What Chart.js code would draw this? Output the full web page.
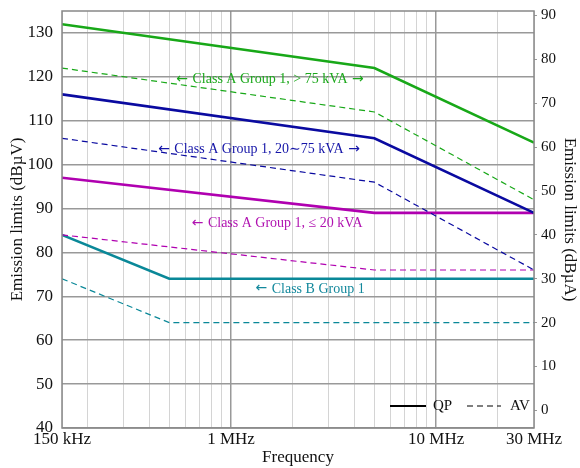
<!DOCTYPE html>
<html>
<head>
<meta charset="utf-8">
<script src="https://cdn.jsdelivr.net/npm/chart.js@4/dist/chart.umd.min.js"></script>
<style>
  html, body { margin: 0; padding: 0; background: #fff; }
  #wrap { width: 580px; height: 468px; }
</style>
</head>
<body>
<div id="wrap"><canvas id="limites"></canvas></div>
<script>
// frecuencias en MHz
var freqA = [0.15, 5, 30];
var freqB = [0.15, 0.5, 30];

// limites en dBuV
var grandeQP = [132, 122, 105];
var grandeAV = [122, 112, 92];
var medioQP = [116, 106, 89];
var medioAV = [106, 96, 76];
var chicoQP = [97, 89, 89];
var chicoAV = [84, 76, 76];
var claseBQP = [84, 74, 74];
var claseBAV = [74, 64, 64];

var ticksFreq = [0.15, 0.2, 0.3, 0.4, 0.5, 0.6, 0.7, 0.8, 0.9, 1, 2, 3, 4, 5, 6, 7, 8, 9, 10, 20, 30];
var etiquetasFreq = { 0.15: '150 kHz', 1: '1 MHz', 10: '10 MHz', 30: '30 MHz' };
var ticksUV = [40, 50, 60, 70, 80, 90, 100, 110, 120, 130];
var ticksUA = [0, 10, 20, 30, 40, 50, 60, 70, 80, 90];

// textos de cada clase: flecha izq, texto, flecha der
var textos = [
  { t: 'Class A Group 1, > 75 kVA', izq: true, der: true, f: 1.55, v: 119.5, c: '#1ca81c' },
  { t: 'Class A Group 1, 20\u223c75 kVA', izq: true, der: true, f: 1.37, v: 103.5, c: '#1515a8' },
  { t: 'Class A Group 1, \u2264 20 kVA', izq: true, der: false, f: 1.68, v: 86.7, c: '#b012b0' },
  { t: 'Class B Group 1', izq: true, der: false, f: 2.43, v: 71.7, c: '#13889c' }
];

var verde = '#18a818';
var azul = '#0a0aa0';
var magenta = '#b000b0';
var teal = '#0a8898';
var serif = "'Liberation Serif', 'DejaVu Serif', serif";

function puntos(xs, ys) {
  return xs.map(function (x, i) { return { x: x, y: ys[i] }; });
}

function serie(xs, ys, color, punteada) {
  return {
    data: puntos(xs, ys),
    borderColor: color,
    borderWidth: punteada ? 1.2 : 2.6,
    borderDash: punteada ? [6, 4] : [],
    pointRadius: 0,
    tension: 0,
    fill: false,
    yAxisID: 'y'
  };
}

var extras = {
  id: 'extras',
  afterDatasetsDraw: function (chart) {
    var ctx = chart.ctx;
    var x = chart.scales.x, y = chart.scales.y;
    var a = chart.chartArea;
    var fTexto = '14px ' + serif;
    var fFlecha = "14px 'DejaVu Sans', sans-serif";
    ctx.save();
    ctx.textAlign = 'left';
    ctx.textBaseline = 'middle';
    textos.forEach(function (e) {
      var partes = [];
      if (e.izq) partes.push({ s: '\u2190 ', f: fFlecha });
      partes.push({ s: e.t, f: fTexto });
      if (e.der) partes.push({ s: ' \u2192', f: fFlecha });
      var total = 0;
      partes.forEach(function (p) { ctx.font = p.f; p.w = ctx.measureText(p.s).width; total += p.w; });
      var px = x.getPixelForValue(e.f) - total / 2;
      var py = y.getPixelForValue(e.v);
      ctx.fillStyle = e.c;
      partes.forEach(function (p) { ctx.font = p.f; ctx.fillText(p.s, px, py); px += p.w; });
    });
    // leyenda
    var ly = a.bottom - 22;
    ctx.strokeStyle = '#000';
    ctx.lineWidth = 2.2;
    ctx.beginPath();
    ctx.moveTo(a.right - 144, ly);
    ctx.lineTo(a.right - 108, ly);
    ctx.stroke();
    ctx.lineWidth = 1.2;
    ctx.setLineDash([6, 4]);
    ctx.beginPath();
    ctx.moveTo(a.right - 67, ly);
    ctx.lineTo(a.right - 33, ly);
    ctx.stroke();
    ctx.setLineDash([]);
    ctx.fillStyle = '#111';
    ctx.font = '15px ' + serif;
    ctx.fillText('QP', a.right - 101, ly);
    ctx.fillText('AV', a.right - 24, ly);
    // marco
    ctx.strokeStyle = '#888';
    ctx.lineWidth = 1.5;
    ctx.strokeRect(a.left, a.top, a.right - a.left, a.bottom - a.top);
    ctx.restore();
  }
};

var lienzo = document.getElementById('limites').getContext('2d');

var grafica = new Chart(lienzo, {
  type: 'line',
  data: {
    datasets: [
      serie(freqA, grandeQP, verde, false),
      serie(freqA, grandeAV, verde, true),
      serie(freqA, medioQP, azul, false),
      serie(freqA, medioAV, azul, true),
      serie(freqA, chicoQP, magenta, false),
      serie(freqA, chicoAV, magenta, true),
      serie(freqB, claseBQP, teal, false),
      serie(freqB, claseBAV, teal, true)
    ]
  },
  options: {
    responsive: true,
    maintainAspectRatio: false,
    animation: false,
    layout: { padding: { top: 11, left: 7, right: 0, bottom: 0 } },
    plugins: { legend: { display: false }, tooltip: { enabled: false } },
    scales: {
      x: {
        type: 'logarithmic',
        min: 0.15,
        max: 30,
        afterBuildTicks: function (s) { s.ticks = ticksFreq.map(function (v) { return { value: v }; }); },
        afterFit: function (s) { s.height = 40; },
        ticks: {
          autoSkip: false,
          maxRotation: 0,
          padding: 1,
          color: '#111',
          font: { family: serif, size: 17 },
          callback: function (v) { return etiquetasFreq[v] || ''; }
        },
        grid: {
          drawTicks: false,
          color: function (c) { return (c.tick && (c.tick.value === 1 || c.tick.value === 10)) ? '#999' : '#d4d4d4'; },
          lineWidth: function (c) { return (c.tick && (c.tick.value === 1 || c.tick.value === 10)) ? 1.5 : 1; }
        },
        border: { display: false },
        title: { display: true, text: 'Frequency', color: '#111', font: { family: serif, size: 17 }, padding: 0 }
      },
      y: {
        position: 'left',
        min: 40,
        max: 135,
        afterBuildTicks: function (s) { s.ticks = ticksUV.map(function (v) { return { value: v }; }); },
        afterFit: function (s) { s.width = 55; s.paddingTop = 0; s.paddingBottom = 0; },
        ticks: { color: '#111', padding: 9, font: { family: serif, size: 17 } },
        grid: { drawTicks: false, color: '#999', lineWidth: 1.5 },
        border: { display: false },
        title: { display: true, text: 'Emission limits (dB\u00b5V)', color: '#111', font: { family: serif, size: 17 }, padding: 0 }
      },
      y2: {
        position: 'right',
        min: -4,
        max: 91,
        afterBuildTicks: function (s) { s.ticks = ticksUA.map(function (v) { return { value: v }; }); },
        afterFit: function (s) { s.width = 46; s.paddingTop = 0; s.paddingBottom = 0; },
        ticks: { color: '#111', padding: 4, font: { family: serif, size: 15 } },
        grid: { drawOnChartArea: false, drawTicks: true, tickLength: 3, color: '#999' },
        border: { display: false },
        title: { display: true, text: 'Emission limits (dB\u00b5A)', color: '#111', font: { family: serif, size: 17 }, padding: 0 }
      }
    }
  },
  plugins: [extras]
});
</script>
</body>
</html>
